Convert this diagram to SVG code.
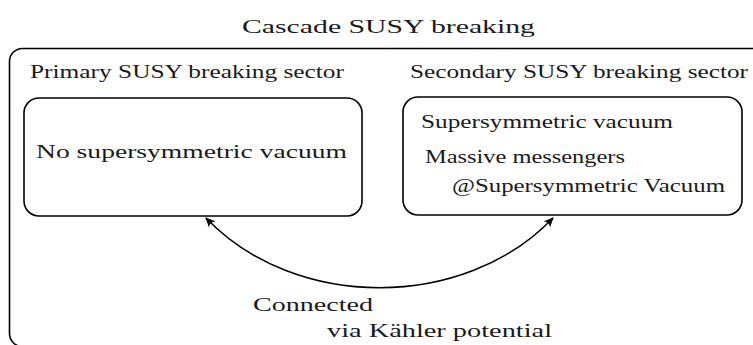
<svg xmlns="http://www.w3.org/2000/svg" width="753" height="345" viewBox="0 0 753 345">
<style>
  .box { fill: none; stroke: #000; stroke-width: 1.6; }
  text { font-family: "Liberation Serif", serif; font-size: 19.5px; fill: #1a1a1a; }
  .conn { fill: none; stroke: #000; stroke-width: 1.5; }
</style>
<defs>
  <marker id="arr" viewBox="0 0 10 10" refX="9" refY="5" markerWidth="10" markerHeight="10" markerUnits="userSpaceOnUse" orient="auto-start-reverse">
    <path d="M0,0.5 Q4,5 0,9.5 L10,5 Z" fill="#000"/>
  </marker>
</defs>
<text x="242" y="33" textLength="293" lengthAdjust="spacingAndGlyphs">Cascade SUSY breaking</text>
<g id="outer">
  <rect class="box" x="9.5" y="48.5" width="770" height="298" rx="13"/>
</g>
<text x="30" y="78" textLength="314" lengthAdjust="spacingAndGlyphs">Primary SUSY breaking sector</text>
<text x="410" y="78" textLength="338" lengthAdjust="spacingAndGlyphs">Secondary SUSY breaking sector</text>
<g id="primary">
  <rect class="box" x="24" y="98" width="338" height="118" rx="15"/>
  <text x="36" y="158" textLength="311" lengthAdjust="spacingAndGlyphs">No supersymmetric vacuum</text>
</g>
<g id="secondary">
  <rect class="box" x="403" y="97" width="339" height="118" rx="15"/>
  <text x="421" y="128" textLength="252" lengthAdjust="spacingAndGlyphs">Supersymmetric vacuum</text>
  <text x="425" y="163" textLength="200" lengthAdjust="spacingAndGlyphs">Massive messengers</text>
  <text x="452" y="192" textLength="273" lengthAdjust="spacingAndGlyphs">@Supersymmetric Vacuum</text>
</g>
<g id="connectors">
  <path class="conn" d="M206,218 C295,311 464,311 553,218" marker-start="url(#arr)" marker-end="url(#arr)"/>
  <text x="253" y="311" textLength="120" lengthAdjust="spacingAndGlyphs">Connected</text>
  <text x="327" y="337" textLength="225" lengthAdjust="spacingAndGlyphs">via Kähler potential</text>
</g>
</svg>
